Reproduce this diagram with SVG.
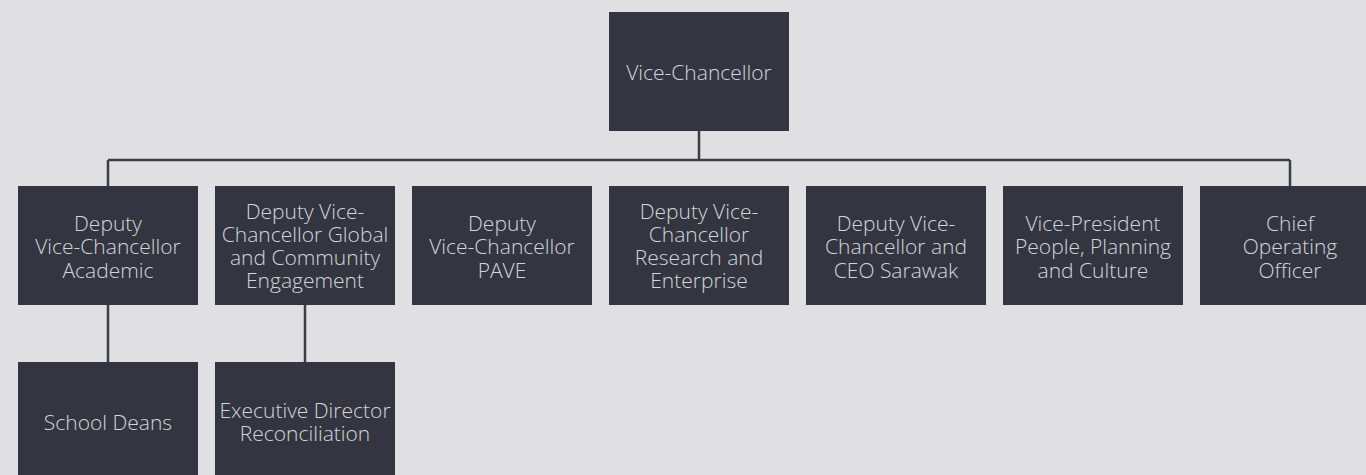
<svg xmlns="http://www.w3.org/2000/svg" width="1366" height="475" viewBox="0 0 1366 475">
<style>
.box{fill:#333640}
.t{font-family:"Open Sans","Liberation Sans",sans-serif;font-weight:300;font-size:21px;fill:#d3d5d9;text-anchor:middle}
.c{stroke:#3b3e48;stroke-width:2.5;fill:none}
</style>
<rect width="1366" height="475" fill="#e0e0e2"/>
<g id="connectors">
<path class="c" d="M699 131V160M108 160H1290M108 160V186M1290 160V186M108 305V362M305 305V362"/>
</g>
<g id="vc"><rect class="box" x="609" y="12" width="180" height="119"/><text class="t" x="699" y="79.5">Vice-Chancellor</text></g>
<g id="dvc-academic"><rect class="box" x="18" y="186" width="180" height="119"/><text class="t" x="108" y="231">Deputy<tspan x="108" dy="23.3">Vice-Chancellor</tspan><tspan x="108" dy="23.3">Academic</tspan></text></g>
<g id="dvc-global"><rect class="box" x="215" y="186" width="180" height="119"/><text class="t" x="305" y="218.5">Deputy Vice-<tspan x="305" dy="23.3">Chancellor Global</tspan><tspan x="305" dy="23.3">and Community</tspan><tspan x="305" dy="23.3">Engagement</tspan></text></g>
<g id="dvc-pave"><rect class="box" x="412" y="186" width="180" height="119"/><text class="t" x="502" y="231">Deputy<tspan x="502" dy="23.3">Vice-Chancellor</tspan><tspan x="502" dy="23.3">PAVE</tspan></text></g>
<g id="dvc-research"><rect class="box" x="609" y="186" width="180" height="119"/><text class="t" x="699" y="218.5">Deputy Vice-<tspan x="699" dy="23.3">Chancellor</tspan><tspan x="699" dy="23.3">Research and</tspan><tspan x="699" dy="23.3">Enterprise</tspan></text></g>
<g id="dvc-sarawak"><rect class="box" x="806" y="186" width="180" height="119"/><text class="t" x="896" y="231">Deputy Vice-<tspan x="896" dy="23.3">Chancellor and</tspan><tspan x="896" dy="23.3">CEO Sarawak</tspan></text></g>
<g id="vp-people"><rect class="box" x="1003" y="186" width="180" height="119"/><text class="t" x="1093" y="231">Vice-President<tspan x="1093" dy="23.3">People, Planning</tspan><tspan x="1093" dy="23.3">and Culture</tspan></text></g>
<g id="coo"><rect class="box" x="1200" y="186" width="180" height="119"/><text class="t" x="1290" y="231">Chief<tspan x="1290" dy="23.3">Operating</tspan><tspan x="1290" dy="23.3">Officer</tspan></text></g>
<g id="deans"><rect class="box" x="18" y="362" width="180" height="119"/><text class="t" x="108" y="429.5">School Deans</text></g>
<g id="ed-reconciliation"><rect class="box" x="215" y="362" width="180" height="119"/><text class="t" x="305" y="418">Executive Director<tspan x="305" dy="23.3">Reconciliation</tspan></text></g>
</svg>
